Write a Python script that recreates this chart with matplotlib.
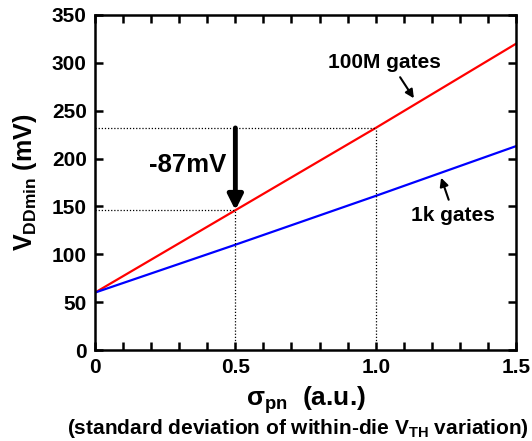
import matplotlib
matplotlib.use('Agg')
import matplotlib.pyplot as plt

# data
sigma = [0.0, 0.5, 1.0, 1.5]
vdd_100m = [60, 146, 232, 320]
vdd_1k = [60, 110, 161, 213]

x_ticks = [0, 0.5, 1.0, 1.5]
x_tick_labels = ['0', '0.5', '1.0', '1.5']
y_ticks = [0, 50, 100, 150, 200, 250, 300, 350]

plt.rcParams['font.family'] = ['Liberation Sans', 'DejaVu Sans']
plt.rcParams['font.weight'] = 'bold'
plt.rcParams['mathtext.default'] = 'regular'

fig = plt.figure(figsize=(5.32, 4.41), dpi=100)
ax = fig.add_axes([0.1786, 0.2063, 0.7914, 0.7597])

ax.plot(sigma, vdd_100m, color='#ff0000', lw=1.6)
ax.plot(sigma, vdd_1k, color='#0000ff', lw=1.6)

# dotted guide lines at 0.5 and 1.0
dot = dict(color='black', lw=0.9, ls=(0, (1, 1.5)))
ax.plot([0, sigma[1]], [vdd_100m[1], vdd_100m[1]], **dot)
ax.plot([sigma[1], sigma[1]], [0, vdd_100m[1]], **dot)
ax.plot([0, sigma[2]], [vdd_100m[2], vdd_100m[2]], **dot)
ax.plot([sigma[2], sigma[2]], [0, vdd_100m[2]], **dot)

# big arrow showing the drop
ax.annotate('', xy=(sigma[1], vdd_100m[1]), xytext=(sigma[1], vdd_100m[2]),
            arrowprops=dict(arrowstyle='-|>,head_length=0.9,head_width=0.45',
                            color='black', lw=3.5, shrinkA=0, shrinkB=0))
ax.text(0.33, 193, '-87mV', fontsize=18.5, fontweight='bold', ha='center', va='center')

# curve labels with small arrows
small = dict(arrowstyle='-|>,head_length=0.5,head_width=0.25',
             color='black', lw=1.5, shrinkA=0, shrinkB=0)
ax.text(1.03, 300, '100M gates', fontsize=15, fontweight='bold', ha='center', va='center')
ax.annotate('', xy=(1.136, 263), xytext=(1.087, 285), arrowprops=small)
ax.text(1.275, 141, '1k gates', fontsize=15, fontweight='bold', ha='center', va='center')
ax.annotate('', xy=(1.233, 180), xytext=(1.26, 157), arrowprops=small)

ax.set_xlim(0, 1.5)
ax.set_ylim(0, 350)
ax.set_xticks(x_ticks)
ax.set_xticklabels(x_tick_labels)
ax.set_xticks([i / 10 for i in range(16)], minor=True)
ax.set_yticks(y_ticks)
ax.tick_params(which='both', direction='in', top=True, right=True,
               width=1.8, length=6, labelsize=15, pad=6)
for lab in ax.get_xticklabels() + ax.get_yticklabels():
    lab.set_fontweight('bold')
for s in ax.spines.values():
    s.set_linewidth(1.8)

ax.set_ylabel('V$_{DDmin}$ (mV)', fontsize=18, fontweight='bold', labelpad=9)
ax.set_xlabel('σ$_{pn}$  (a.u.)', fontsize=19, fontweight='bold', labelpad=5)
fig.text(0.56, 0.028, '(standard deviation of within-die V$_{TH}$ variation)',
         fontsize=15, fontweight='bold', ha='center', va='center')

fig.savefig('out.png', dpi=100)
